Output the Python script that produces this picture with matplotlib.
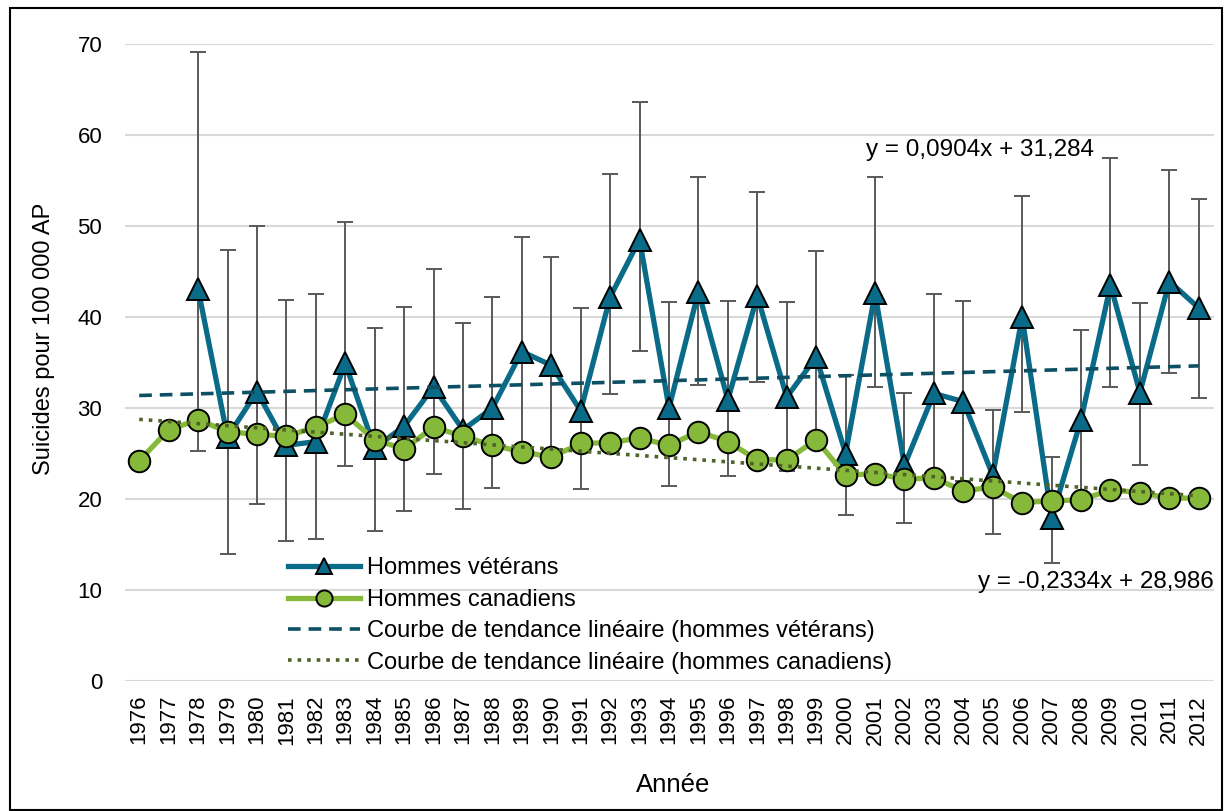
import numpy as np
import matplotlib
matplotlib.use("Agg")
import matplotlib.pyplot as plt
from matplotlib.patches import Rectangle

plt.rcParams['font.family'] = ['Liberation Sans', 'DejaVu Sans']

years = list(range(1976, 2013))

# taux pour 100 000 AP
veterans = [np.nan, np.nan, 43.1, 26.8, 31.8, 25.9, 26.3, 34.9, 25.6, 28.0,
            32.3, 27.6, 30.0, 36.2, 34.7, 29.7, 42.2, 48.5, 30.0, 42.8,
            30.9, 42.3, 31.2, 35.6, 25.0, 42.6, 23.7, 31.6, 30.7, 22.6,
            40.0, 17.9, 28.7, 43.5, 31.7, 43.9, 41.0]
vet_upper = [np.nan, np.nan, 69.1, 47.4, 50.0, 41.9, 42.5, 50.4, 38.8, 41.1,
             45.3, 39.3, 42.2, 48.8, 46.6, 41.0, 55.7, 63.6, 41.6, 55.4,
             41.8, 53.7, 41.6, 47.3, 33.6, 55.4, 31.7, 42.5, 41.8, 29.8,
             53.3, 24.6, 38.6, 57.5, 41.5, 56.1, 53.0]
vet_lower = [np.nan, np.nan, 25.3, 14.0, 19.4, 15.4, 15.6, 23.6, 16.5, 18.7,
             22.8, 18.9, 21.2, 25.6, 24.9, 21.1, 31.5, 36.3, 21.4, 32.5,
             22.5, 32.9, 23.1, 26.0, 18.2, 32.3, 17.4, 22.8, 22.0, 16.2,
             29.6, 13.0, 20.5, 32.3, 23.7, 33.9, 31.1]
canadians = [24.2, 27.6, 28.7, 27.4, 27.1, 26.9, 27.9, 29.3, 26.5, 25.5,
             27.9, 26.9, 25.9, 25.2, 24.6, 26.1, 26.2, 26.7, 25.9, 27.4,
             26.3, 24.3, 24.3, 26.5, 22.6, 22.8, 22.2, 22.3, 20.9, 21.3,
             19.6, 19.8, 19.9, 21.0, 20.7, 20.1, 20.1]

# courbes de tendance (x = 1 pour 1976)
vet_slope, vet_icpt = 0.0904, 31.284
can_slope, can_icpt = -0.2334, 28.986

blue = '#0a6b88'
green = '#86b93a'

fig = plt.figure(figsize=(12.25, 8.11), dpi=100)
ax = fig.add_axes([124.5 / 1225, 1 - 681 / 811, 1089 / 1225, 637 / 811])

x = np.array(years)
v = np.array(veterans)
yerr = np.array([v - np.array(vet_lower), np.array(vet_upper) - v])

ax.errorbar(x, v, yerr=yerr, fmt='none', ecolor='#595959', elinewidth=1.4,
            capsize=5.5, capthick=1.4, zorder=2)
ax.plot(x, v, '-^', color=blue, lw=3.8, ms=15.5, mfc=blue, mec='black',
        mew=1.4, label='Hommes vétérans', zorder=3)
ax.plot(x, canadians, '-o', color=green, lw=3.8, ms=15.5, mfc=green,
        mec='black', mew=1.4, label='Hommes canadiens', zorder=4)

t = x - 1975
ax.plot(x, vet_slope * t + vet_icpt, '--', color='#0d4f63', lw=2.6,
        dashes=(3.5, 2.2), label='Courbe de tendance linéaire (hommes vétérans)', zorder=5)
ax.plot(x, can_slope * t + can_icpt, ':', color='#4f6228', lw=2.6,
        label='Courbe de tendance linéaire (hommes canadiens)', zorder=5)

ax.text(2000.7, 58.3, 'y = 0,0904x + 31,284', fontsize=17.5, va='center', ha='left')
ax.text(2012.5, 10.9, 'y = -0,2334x + 28,986', fontsize=17.5, va='center', ha='right')

ax.set_xlim(1975.5, 2012.5)
ax.set_ylim(0, 70)
ax.set_yticks(range(0, 71, 10))
ax.set_xticks(years)
ax.set_xticklabels([str(y) for y in years], rotation=90)
ax.tick_params(axis='both', length=0, labelsize=16)
ax.tick_params(axis='y', pad=16)
ax.tick_params(axis='x', pad=10)
ax.grid(axis='y', color='#d9d9d9', lw=1.5)
ax.set_axisbelow(True)
for s in ax.spines.values():
    s.set_visible(False)

ax.set_ylabel('Suicides pour 100 000 AP', fontsize=17)
ax.set_xlabel('Année', fontsize=18.5)
ax.yaxis.set_label_coords(-0.064, 0.537)
ax.xaxis.set_label_coords(0.504, -0.145)

ax.legend(loc='upper left', bbox_to_anchor=(0.150, 0.194), frameon=False,
          fontsize=17, handlelength=3.05, handletextpad=0.3, labelspacing=0.4,
          borderpad=0, borderaxespad=0, markerscale=0.75)

# cadre autour de la figure
fig.patches.append(Rectangle((10 / 1225, 1 / 811), 1212 / 1225, 802 / 811,
                             transform=fig.transFigure, fill=False,
                             edgecolor='black', lw=1.5))

fig.savefig('out.png', dpi=100)
